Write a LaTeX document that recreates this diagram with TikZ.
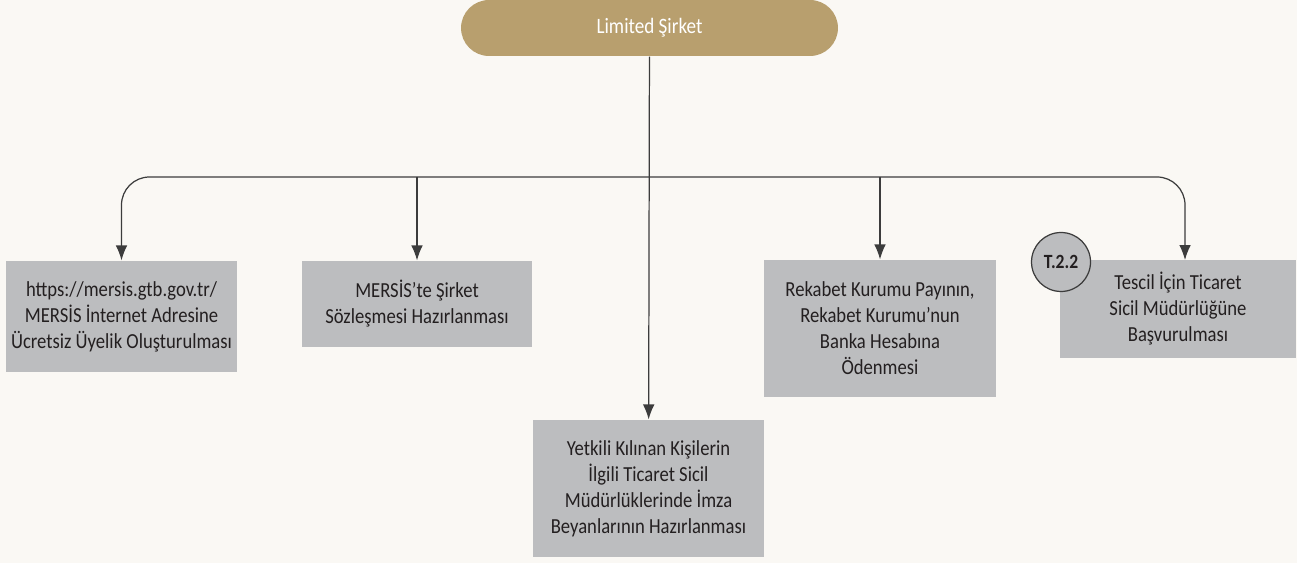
\documentclass[tikz,border=0pt]{standalone}
\usepackage{fontspec}
\setmainfont{Carlito}[FakeStretch=0.87]
\usepackage{xcolor}
\usepackage{tikz}
\usetikzlibrary{arrows.meta,positioning}

\definecolor{bgcream}{HTML}{FAF8F4}
\definecolor{pillgold}{HTML}{B89F6E}
\definecolor{boxgray}{HTML}{BCBDBF}
\definecolor{linegray}{HTML}{3C3C3C}
\definecolor{txtdark}{HTML}{231F20}

\begin{document}
\begin{tikzpicture}[x=0.02cm,y=-0.02cm,>={Latex[length=8.5pt,width=6.6pt]},
    line width=0.7pt,
    pill/.style={fill=pillgold,rounded corners=0.56cm,minimum width=7.54cm,minimum height=1.12cm,
      text=white,font=\fontsize{12.5}{14}\selectfont},
    task/.style={fill=boxgray,text=txtdark,align=center,inner sep=2pt,
      font=\fontsize{12.2}{14.8}\selectfont},
    tag/.style={circle,draw=linegray,fill=boxgray,minimum size=1.18cm,inner sep=0pt,
      font=\bfseries\fontsize{11.5}{13}\selectfont,text=txtdark},
    link/.style={draw=linegray,->}]
  \fill[bgcream] (0,0) rectangle (1297,563);
  \useasboundingbox (0,0) rectangle (1297,563);

  \node[pill] (s0) at (649.5,28) {Limited Şirket};

  \node[task,minimum width=4.62cm,minimum height=2.22cm] (s1) at (121.5,316.5)
    {https://mersis.gtb.gov.tr/\\MERSİS İnternet Adresine\\Ücretsiz Üyelik Oluşturulması};
  \node[task,minimum width=4.6cm,minimum height=1.72cm] (s2) at (417,304)
    {MERSİS’te Şirket\\Sözleşmesi Hazırlanması};
  \node[task,minimum width=4.62cm,minimum height=2.74cm] (s3) at (648.5,488.5)
    {Yetkili Kılınan Kişilerin\\İlgili Ticaret Sicil\\Müdürlüklerinde İmza\\Beyanlarının Hazırlanması};
  \node[task,minimum width=4.64cm,minimum height=2.74cm] (s4) at (880,328.5)
    {Rekabet Kurumu Payının,\\Rekabet Kurumu’nun\\Banka Hesabına\\Ödenmesi};
  \node[task,minimum width=4.72cm,minimum height=1.96cm] (s5) at (1178,309)
    {Tescil İçin Ticaret\\Sicil Müdürlüğüne\\Başvurulması};
  \node[tag] (t5) at (1061,262) {T.2.2};

  \coordinate (bus) at (649.5,177);
  \coordinate (s5in) at (1185,260);

  \path[link] (s0) -- (s3);
  \draw[link,rounded corners=0.56cm] (bus) -| (s1.north);
  \draw[link] (s2.north |- bus) -- (s2.north);
  \draw[link] (s4.north |- bus) -- (s4.north);
  \draw[link,rounded corners=0.56cm] (bus) -| (s5in);
\end{tikzpicture}
\end{document}
